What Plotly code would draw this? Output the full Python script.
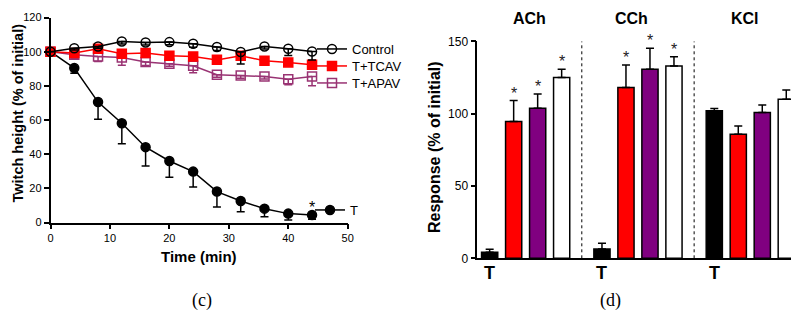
import plotly.graph_objects as go

# ---------------- data: panel (c) ----------------
time_min = [0, 4, 8, 12, 16, 20, 24, 28, 32, 36, 40, 44]
control = [100, 102, 103, 106, 105.4, 105.6, 104.6, 102.7, 99.8, 103, 101.7, 100.1]
control_err = [0, 1, 1, 1.5, 1.5, 1.5, 2, 2, 7, 1.5, 4, 5]
tcav = [100, 99.2, 101.7, 98.8, 99.2, 97.6, 97.2, 95.2, 97.6, 94.7, 93.7, 92.3]
tcav_err = [0, 1, 1.5, 1.5, 1.5, 1.5, 1.5, 1.5, 1.5, 1.5, 1.5, 1.5]
apav = [100, 98.2, 97.2, 96.6, 93.9, 92.9, 91.7, 86.5, 86, 85.5, 83.9, 85.5]
apav_err = [0, 2, 3, 4.5, 2, 1.5, 4, 1.5, 1.5, 1.5, 3.3, 5.5]
t_only = [100, 90.4, 70.5, 58.1, 44.1, 36, 29.8, 18.1, 12.6, 8.1, 5.2, 4.4]
t_err = [0, 3, 10, 12, 11, 9.5, 9, 9, 6.3, 4.7, 3.7, 2.5]

# ---------------- data: panel (d) ----------------
groups = ["ACh", "CCh", "KCl"]
treatments = ["T", "T+TCAV", "T+APAV", "Control"]
resp_T = [4.1, 6.4, 102]
resp_T_err = [2.1, 4.0, 1.5]
resp_TCAV = [94.5, 118, 85.7]
resp_TCAV_err = [14.5, 15.7, 5.8]
resp_APAV = [103.7, 130.7, 100.7]
resp_APAV_err = [9.9, 14.5, 5.3]
resp_Ctrl = [124.9, 133, 110]
resp_Ctrl_err = [5.8, 6.4, 6.4]
star_T = [False, False, False]
star_TCAV = [True, True, False]
star_APAV = [True, True, False]
star_Ctrl = [True, True, False]
group_tick_label = "T"

FONT = "Liberation Sans, Arial, sans-serif"
SERIF = "Liberation Serif, Times New Roman, serif"
RED = "#FF0000"
PURPLE = "#800080"
MAGENTA = "#993373"

# the page body has an 8px margin: map page pixels to paper fractions
OFF = 8
W, H = 799 - OFF, 312 - OFF


def PX(p):
    return (p - OFF) / W


def PY(p):
    return (312 - p) / H


fig = go.Figure()


def line_trace(y, err, name, color, symbol, legend):
    return go.Scatter(
        x=time_min, y=y, name=name, mode="lines+markers",
        line=dict(color=color, width=1.5),
        marker=dict(symbol=symbol, size=9, color=color, line=dict(width=1.5, color=color)),
        error_y=dict(type="data", symmetric=False, array=[0] * len(err), arrayminus=err,
                     color=color, thickness=1.5, width=4),
        xaxis="x", yaxis="y", legend=legend, cliponaxis=False,
    )


fig.add_trace(line_trace(t_only, t_err, "T", "black", "circle", "legend4"))
fig.add_trace(line_trace(apav, apav_err, "T+APAV", MAGENTA, "square-open", "legend3"))
fig.add_trace(line_trace(tcav, tcav_err, "T+TCAV", RED, "square", "legend2"))
fig.add_trace(line_trace(control, control_err, "Control", "black", "circle-open", "legend"))

# star on last T point
fig.add_annotation(x=time_min[-1], y=t_only[-1], xref="x", yref="y", text="*",
                   showarrow=False, xanchor="center", yanchor="bottom", yshift=-3,
                   font=dict(family=FONT, size=16, color="black"))

# ---------------- bars ----------------
GROUP_STEP = 4.68
BAR_W = 0.675
bar_series = [
    (resp_T, resp_T_err, star_T, "black"),
    (resp_TCAV, resp_TCAV_err, star_TCAV, RED),
    (resp_APAV, resp_APAV_err, star_APAV, PURPLE),
    (resp_Ctrl, resp_Ctrl_err, star_Ctrl, "white"),
]
for i, (vals, errs, stars, col) in enumerate(bar_series):
    xs = [g * GROUP_STEP + i for g in range(len(groups))]
    fig.add_trace(go.Bar(
        x=xs, y=vals, width=BAR_W, name=treatments[i], showlegend=False,
        marker=dict(color=col, line=dict(color="black", width=1.5)),
        error_y=dict(type="data", symmetric=False, array=errs, arrayminus=[0] * len(errs),
                     color="black", thickness=1.5, width=4),
        xaxis="x2", yaxis="y2", cliponaxis=False,
    ))
    for xv, v, e, s in zip(xs, vals, errs, stars):
        if s:
            fig.add_annotation(x=xv, y=v + e, xref="x2", yref="y2", text="*",
                               showarrow=False, xanchor="center", yanchor="bottom", yshift=-3,
                               font=dict(family=FONT, size=16, color="#222"))

# "T" labels under the black bars
for g in range(len(groups)):
    fig.add_annotation(x=g * GROUP_STEP, y=PY(272.7), xref="x2", yref="paper",
                       text="<b>%s</b>" % group_tick_label, showarrow=False,
                       xanchor="center", yanchor="middle",
                       font=dict(family=FONT, size=18, color="black"))

# dotted separators between groups
for g in range(len(groups) - 1):
    xm = (g * GROUP_STEP + 3 + (g + 1) * GROUP_STEP) / 2
    fig.add_shape(type="line", xref="x2", yref="y2", x0=xm, x1=xm, y0=0, y1=150,
                  line=dict(color="black", width=1, dash="dot"))

# group labels
for g, name in enumerate(groups):
    fig.add_annotation(x=g * GROUP_STEP + 1.5 + [0.14, -0.27, -0.23][g], y=PY(18.5),
                       xref="x2", yref="paper", text="<b>%s</b>" % name, showarrow=False,
                       xanchor="center", yanchor="middle",
                       font=dict(family=FONT, size=16, color="black"))


def label(xp, yp, text, font, angle=0):
    fig.add_annotation(x=PX(xp), y=PY(yp), xref="paper", yref="paper", text=text,
                       textangle=angle, showarrow=False, xanchor="center", yanchor="middle",
                       font=font)


label(17, 113.5, "<b>Twitch height (% of initial)</b>", dict(family=FONT, size=14.5, color="black"), -90)
label(434.5, 147.5, "<b>Response (% of initial)</b>", dict(family=FONT, size=16, color="black"), -90)
label(199, 256, "<b>Time (min)</b>", dict(family=FONT, size=15, color="black"))
label(201.5, 300, "(c)", dict(family=SERIF, size=18, color="black"))
label(610.7, 300, "(d)", dict(family=SERIF, size=18, color="black"))

axis_common = dict(showgrid=False, zeroline=False, showline=True, linecolor="black",
                   linewidth=1.5, ticks="outside", ticklen=5, tickwidth=1.5, tickcolor="black",
                   automargin=False)


def leg(xpx, ypx):
    return dict(x=PX(xpx), y=PY(ypx), xanchor="left", yanchor="middle",
                font=dict(family=FONT, size=13, color="black"), bgcolor="rgba(0,0,0,0)",
                borderwidth=0, itemwidth=30)


fig.update_layout(
    width=W, height=H, margin=dict(l=0, r=0, t=0, b=0, autoexpand=False),
    paper_bgcolor="white", plot_bgcolor="white",
    font=dict(family=FONT, color="black"),
    barmode="overlay",
    xaxis=dict(domain=[PX(50.5), PX(347.7)], range=[0, 50], tickvals=[0, 10, 20, 30, 40, 50],
               tickfont=dict(family=FONT, size=11, color="black"), anchor="y",
               tickprefix="<b>", ticksuffix="</b>", **axis_common),
    yaxis=dict(domain=[PY(222.5), PY(17.5)], range=[0, 120],
               tickvals=[0, 20, 40, 60, 80, 100, 120], anchor="x",
               tickfont=dict(family=FONT, size=11, color="black"),
               tickprefix="<b>", ticksuffix="</b>", **axis_common),
    xaxis2=dict(domain=[PX(477.3), 1.0], range=[-0.515, 12.97 - 0.08], anchor="y2",
                showticklabels=False,
                showgrid=False, zeroline=False, showline=True, linecolor="black", linewidth=1.5,
                ticks="", automargin=False),
    yaxis2=dict(domain=[PY(258.3), PY(41.3)], range=[0, 150],
                tickvals=[0, 50, 100, 150], anchor="x2",
                tickfont=dict(family=FONT, size=12, color="black"),
                tickprefix="<b>", ticksuffix="</b>", **axis_common),
    legend=leg(312, 49),
    legend2=leg(312, 66),
    legend3=leg(312, 83),
    legend4=leg(310, 210),
)

fig.write_html("out.html")
